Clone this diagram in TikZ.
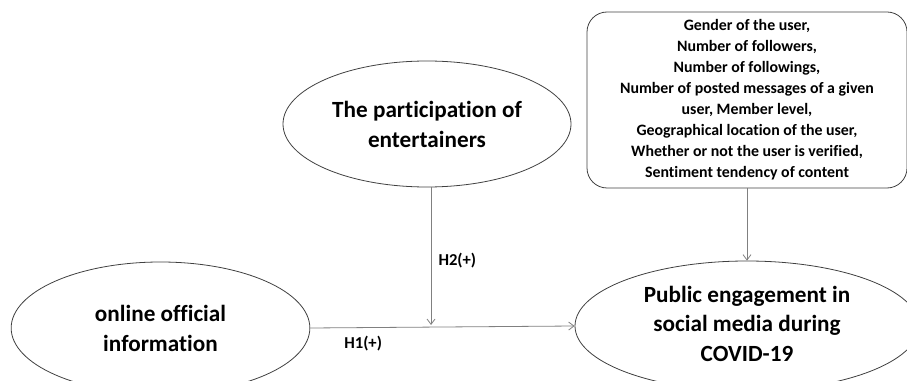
\documentclass[tikz,border=0pt]{standalone}
\usepackage{fontspec}
\setmainfont{Carlito}[Ligatures=CommonOff]
\usetikzlibrary{shapes.geometric}
\usetikzlibrary{arrows.meta}

\begin{document}
\begin{tikzpicture}[
  x=0.75pt, y=-0.75pt,
  every node/.style={font=\bfseries},
  construct/.style={ellipse, draw=black!75, line width=0.6pt, inner sep=0pt,
    align=center, font=\fontsize{17.4}{22.5}\selectfont\bfseries},
  varbox/.style={rectangle, rounded corners=15pt, draw=black!75, line width=0.6pt,
    minimum width=240pt, minimum height=132pt, inner sep=0pt, align=center,
    font=\fontsize{11.9}{15.75}\selectfont\bfseries},
  link/.style={draw=black!50, line width=0.6pt, -{Straight Barb[length=4pt,width=6pt]}},
  hyp/.style={font=\fontsize{12.5}{15}\selectfont\bfseries}
]
\useasboundingbox (0,0) rectangle (907,381);
\clip (0,0) rectangle (907,381);

% ====== CONSTRUCTS ======
\node[construct, minimum width=224pt, minimum height=99pt] (info) at (160.5,328)
    {online official\\information};
\node[construct, minimum width=258pt, minimum height=97.5pt] (engage) at (747,326)
    {\raisebox{3pt}{\begin{tabular}{@{}c@{}}Public engagement in\\social media during\\COVID-19\end{tabular}}};
\node[construct, minimum width=216pt, minimum height=94.5pt] (ent) at (427,124)
    {The participation of\\entertainers};

% ====== CONTROL VARIABLES ======
\node[varbox] (vars) at (747,100) {
    Gender of the user,\\
    Number of followers,\\
    Number of followings,\\
    Number of posted messages of a given\\
    user, Member level,\\
    Geographical location of the user,\\
    Whether or not the user is verified,\\
    Sentiment tendency of content
};

% ====== PATHS ======
\coordinate (h2) at (431,325);
\draw[link] (info.east) -- (engage.west)
    node[hyp, pos=0.2, below=3pt] {H1(+)};
\draw[link] (h2 |- ent.south) -- (h2)
    node[hyp, pos=0.53, right=2pt] {H2(+)};
\draw[link] (vars.south) -- (engage.north);

\end{tikzpicture}
\end{document}
